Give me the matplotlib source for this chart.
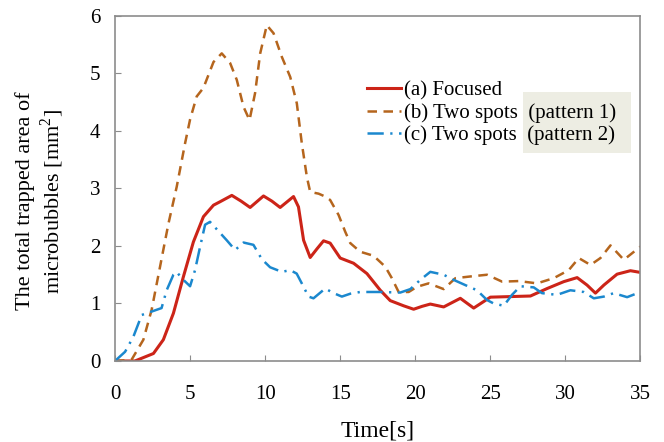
import matplotlib
matplotlib.use("Agg")
import matplotlib.pyplot as plt
from matplotlib.patches import Rectangle

plt.rcParams['font.family'] = ['Liberation Serif', 'DejaVu Serif']
plt.rcParams['mathtext.fontset'] = 'custom'
plt.rcParams['mathtext.rm'] = 'Liberation Serif'

# (a) Focused
t_a = [0, 1.33, 2.56, 3.22, 3.89, 4.56, 5.22, 5.89, 6.56, 7.0, 7.78, 8.4, 9.0, 9.89, 10.45,
       11.0, 11.89, 12.22, 12.56, 13.0, 13.45, 13.89, 14.33, 15.0, 15.89, 16.78, 17.67, 18.33, 19.22, 19.89,
       20.45, 21.0, 21.89, 23.0, 23.89, 25.0, 26.33, 27.67, 28.78, 29.89, 30.78, 31.44, 32.0, 32.56,
       33.44, 34.33, 35]
area_a = [0, 0, 0.13, 0.37, 0.83, 1.47, 2.07, 2.51, 2.71, 2.77, 2.88, 2.78, 2.67, 2.87, 2.78,
          2.67, 2.86, 2.68, 2.1, 1.8, 1.95, 2.09, 2.05, 1.79, 1.7, 1.52, 1.23, 1.05, 0.96, 0.9,
          0.95, 0.99, 0.94, 1.09, 0.92, 1.11, 1.12, 1.13, 1.26, 1.38, 1.45, 1.32, 1.18, 1.32,
          1.51, 1.57, 1.54]

# (b) Two spots (pattern 1)
t_b = [0, 1.1, 1.89, 2.44, 3.0, 3.56, 4.11, 4.67, 5.0, 5.44, 5.89, 6.56, 7.11, 7.67, 8.11,
       8.56, 8.96, 9.33, 9.67, 10.11, 10.56, 11.11, 11.67, 12.11, 12.44, 12.78, 13.0, 13.56, 14.0, 14.33,
       14.89, 15.33, 15.67, 16.33, 17.22, 18.0, 18.44, 18.89, 19.56, 20.11, 20.89, 21.89, 22.67, 23.67, 24.78,
       25.78, 26.89, 28.11, 29.22, 30.22, 30.89, 31.67, 32.33, 33.0, 33.89, 35]
area_b = [0, 0.02, 0.37, 0.89, 1.64, 2.39, 3.03, 3.79, 4.2, 4.6, 4.75, 5.2, 5.35, 5.18, 4.89,
          4.42, 4.19, 4.66, 5.35, 5.84, 5.7, 5.29, 4.94, 4.48, 3.79, 3.2, 2.94, 2.91, 2.86, 2.8,
          2.54, 2.25, 2.05, 1.9, 1.83, 1.64, 1.44, 1.2, 1.2, 1.29, 1.35, 1.25, 1.44, 1.47, 1.5,
          1.38, 1.39, 1.35, 1.44, 1.58, 1.79, 1.67, 1.79, 2.01, 1.76, 1.99]

# (c) Two spots (pattern 2)
t_c = [0, 0.67, 1.22, 1.78, 2.44, 3.1, 3.44, 3.89, 4.11, 4.44, 5.0, 5.33, 5.67, 6.0, 6.33,
       6.78, 7.44, 8.0, 8.56, 9.22, 9.78, 10.33, 11.11, 11.67, 12.1, 12.44, 12.89, 13.22, 14.0, 14.56,
       15.11, 15.67, 16.33, 17.67, 19.0, 19.67, 20.33, 21.0, 21.89, 22.56, 23.33, 24.11, 24.78, 25.22, 25.89,
       26.44, 27.0, 27.89, 28.44, 29.44, 30.33, 31.22, 31.89, 32.56, 33.22, 34.11, 35]
area_c = [0, 0.16, 0.42, 0.8, 0.86, 0.92, 1.23, 1.5, 1.55, 1.44, 1.3, 1.58, 1.99, 2.37, 2.42,
          2.29, 2.1, 1.93, 2.06, 2.02, 1.77, 1.63, 1.55, 1.58, 1.52, 1.35, 1.12, 1.09, 1.26, 1.18,
          1.12, 1.17, 1.2, 1.2, 1.19, 1.25, 1.41, 1.55, 1.5, 1.41, 1.32, 1.23, 1.06, 1.0, 0.96,
          1.15, 1.3, 1.28, 1.18, 1.15, 1.23, 1.2, 1.09, 1.12, 1.18, 1.11, 1.2]

labels = ['(a) Focused', '(b) Two spots  (pattern 1)', '(c) Two spots  (pattern 2)']

fig = plt.figure(figsize=(6.64, 4.42), dpi=100)
ax = fig.add_subplot(1, 1, 1)
fig.subplots_adjust(left=0.1732, right=0.9646, bottom=0.1833, top=0.9638)

ax.plot(t_a, area_a, color='#CC2418', lw=2.2, label=labels[0], solid_joinstyle='round')
ax.plot(t_b, area_b, color='#B5651D', lw=1.8, dashes=(3.8, 2.6), label=labels[1])
ax.plot(t_c, area_c, color='#1B88CE', lw=1.8, dashes=(6.5, 2.6, 0.9, 2.6), label=labels[2])

ax.set_xlim(0, 35)
ax.set_ylim(0, 6)
ax.set_xticks(range(0, 36, 5))
ax.set_yticks(range(0, 7))

for s in ax.spines.values():
    s.set_color('#8c8c8c')
    s.set_linewidth(1.2)
ax.tick_params(direction='in', length=4, color='#8c8c8c', labelsize=15)
ax.tick_params(axis='x', pad=17.5)
ax.tick_params(axis='y', pad=10.5)

ax.set_xlabel('Time[s]', fontsize=17, labelpad=12)
fig.text(40.5 / 664, 1 - 201 / 442, 'The total trapped area of\nmicrobubbles [mm$^2$]',
         fontsize=16, rotation=90, ha='center', va='center', multialignment='center')

# shaded box behind the "(pattern ...)" part of the legend
ax.add_patch(Rectangle((523 / 664, 1 - 153 / 442), 108 / 664, 61 / 442,
                       transform=fig.transFigure, facecolor='#EDEDE3', edgecolor='none',
                       zorder=0.5, clip_on=False))

ax.legend(loc='upper left', bbox_to_anchor=(367 / 664, 1 - 81 / 442), bbox_transform=fig.transFigure,
          frameon=False, fontsize=15, handlelength=1.65, handletextpad=0.15,
          labelspacing=0.12, borderpad=0, borderaxespad=0)

fig.savefig('out.png', dpi=100)
